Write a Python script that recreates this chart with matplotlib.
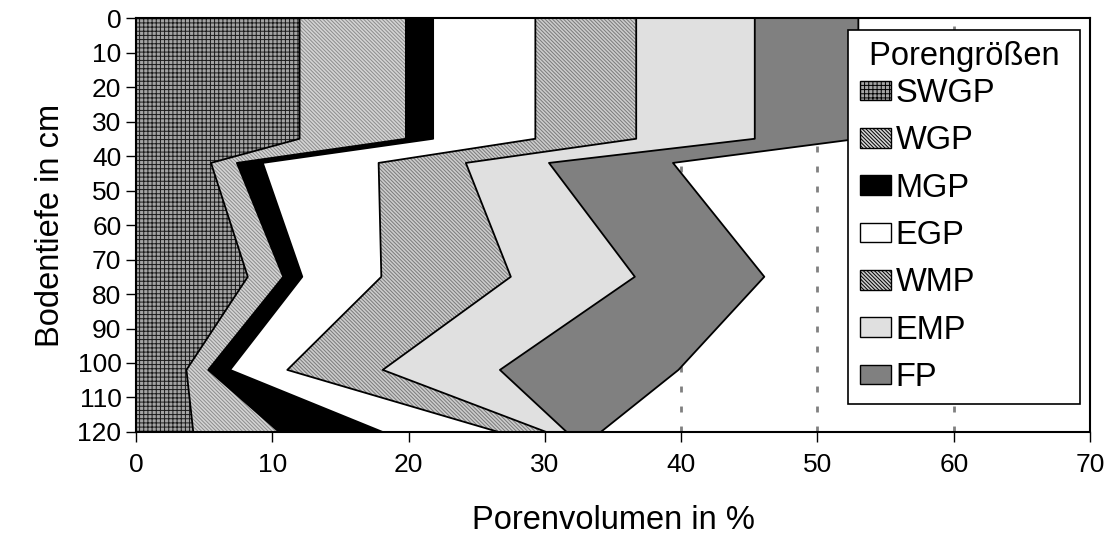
import numpy as np
import matplotlib
matplotlib.use('Agg')
import matplotlib.pyplot as plt
from matplotlib.patches import Patch

plt.rcParams['font.family'] = ['Liberation Sans', 'DejaVu Sans']
plt.rcParams['hatch.linewidth'] = 0.7
plt.rcParams['lines.scale_dashes'] = False

# depth of the profile points (cm)
depth = [0, 35, 42, 75, 102, 120]

# pore volume per class (%)
swgp = [12.0, 12.0, 5.5, 8.2, 3.7, 4.2]
wgp = [7.8, 7.8, 1.9, 2.6, 1.6, 6.3]
mgp = [2.0, 2.0, 1.9, 1.4, 1.6, 7.6]
egp = [7.5, 7.5, 8.5, 5.8, 4.2, 8.5]
wmp = [7.4, 7.4, 6.4, 9.5, 7.0, 3.5]
emp = [8.7, 8.7, 6.1, 9.1, 8.6, 1.5]
fp = [7.6, 7.6, 9.1, 9.5, 13.1, 2.5]

labels = ['SWGP', 'WGP', 'MGP', 'EGP', 'WMP', 'EMP', 'FP']
xticks = [0, 10, 20, 30, 40, 50, 60, 70]
yticks = [0, 10, 20, 30, 40, 50, 60, 70, 80, 90, 100, 110, 120]

# (facecolor, hatch, hatch colour)
styles = [
    ('#a4a4a4', '++++', '#1a1a1a'),
    ('#d4d4d4', '\\' * 9, '#8c8c8c'),
    ('#000000', '', '#000000'),
    ('#ffffff', '', '#ffffff'),
    ('#cccccc', '\\' * 9, '#7a7a7a'),
    ('#e0e0e0', '', '#e0e0e0'),
    ('#808080', '', '#808080'),
]

data = np.array([swgp, wgp, mgp, egp, wmp, emp, fp])
cum = np.vstack([np.zeros(len(depth)), np.cumsum(data, axis=0)])

fig = plt.figure(figsize=(11.14, 5.46), dpi=100)
ax = fig.add_axes([0.1221, 0.2088, 0.8564, 0.7582])

for i, (fc, h, hc) in enumerate(styles):
    ax.fill_betweenx(depth, cum[i], cum[i + 1], facecolor=fc, hatch=h,
                     edgecolor=hc, linewidth=0, zorder=2)
for i in range(1, len(cum)):
    ax.plot(cum[i], depth, color='black', linewidth=1.3, zorder=3)

ax.set_xlim(0, 70)
ax.set_ylim(120, 0)
ax.set_xticks(xticks)
ax.set_yticks(yticks)
ax.tick_params(labelsize=19, length=7, width=1, direction='out')
ax.tick_params(axis='x', pad=8)
ax.set_axisbelow(True)
ax.xaxis.grid(True, color='#808080', linewidth=2, linestyle=(0, (4.3, 10.1)))
for s in ax.spines.values():
    s.set_linewidth(1.5)
    s.set_zorder(4)

ax.set_xlabel('Porenvolumen in %', fontsize=23.5, labelpad=20)
ax.set_ylabel('Bodentiefe in cm', fontsize=23.5, labelpad=8)

handles = [Patch(facecolor=fc, hatch=h, edgecolor='black', linewidth=1)
           for fc, h, hc in styles]
leg = ax.legend(handles, labels, title=' Porengrößen ', loc='upper right',
                bbox_to_anchor=(0.9895, 0.971), borderaxespad=0,
                fontsize=23.5, title_fontsize=23.5, fancybox=False,
                framealpha=1, edgecolor='black', handlelength=0.95,
                handleheight=0.55, handletextpad=0.15, labelspacing=0.5,
                borderpad=0.35, alignment='left')
leg._legend_box.sep = 4
leg.get_frame().set_linewidth(1.2)
leg.set_zorder(5)

fig.savefig('out.png', dpi=100)
